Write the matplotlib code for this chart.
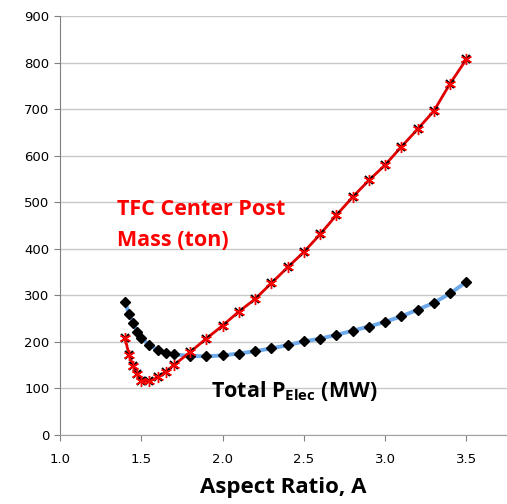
import matplotlib
matplotlib.use("Agg")
import matplotlib.pyplot as plt

plt.rcParams['mathtext.fontset'] = 'custom'
plt.rcParams['mathtext.rm'] = 'Open Sans'
plt.rcParams['mathtext.bf'] = 'Open Sans:bold'

# Total electric power (MW) vs aspect ratio
a_pelec = [1.4, 1.425, 1.45, 1.475, 1.5, 1.55, 1.6, 1.65, 1.7, 1.8, 1.9, 2.0,
           2.1, 2.2, 2.3, 2.4, 2.5, 2.6, 2.7, 2.8, 2.9, 3.0, 3.1, 3.2, 3.3, 3.4, 3.5]
pelec = [286, 260, 240, 222, 208, 193, 183, 177, 173, 170, 169, 171,
         175, 180, 186, 193, 201, 207, 215, 224, 233, 243, 255, 269, 284, 304, 329]

# TFC center post mass (ton) vs aspect ratio
a_mass = a_pelec
mass = [208, 172, 148, 130, 116, 115, 124, 136, 150, 178, 207, 235,
        265, 292, 326, 360, 393, 431, 472, 511, 547, 580, 619, 657, 696, 755, 807]

fig = plt.figure(figsize=(5.07, 5.04), dpi=100)
ax = fig.add_axes([0.1183, 0.1369, 0.8817, 0.8313])

ax.plot(a_pelec, pelec, color='#6eaaea', lw=2.8, zorder=2)
ax.plot(a_pelec, pelec, ls='none', marker='D', ms=5, color='black', zorder=3)

ax.plot(a_mass, mass, color='#e00000', lw=2, zorder=4)
ax.plot(a_mass, mass, ls='none', marker='x', ms=6, mew=1.5, color='black', zorder=5)
ax.plot(a_mass, mass, ls='none', marker=(6, 2, 0), ms=8, mew=1, color='#ff0000', zorder=6)

ax.set_xlim(1.0, 3.75)
ax.set_ylim(0, 900)
ax.set_xticks([1.0, 1.5, 2.0, 2.5, 3.0, 3.5])
ax.set_xticklabels(['1.0', '1.5', '2.0', '2.5', '3.0', '3.5'])
ax.set_yticks(range(0, 1000, 100))

ax.grid(axis='y', color='#c8c8c8', lw=1)
ax.set_axisbelow(True)
for s in ['top', 'right']:
    ax.spines[s].set_visible(False)
ax.spines['left'].set_color('#808080')
ax.spines['bottom'].set_color('#a0a0a0')
ax.tick_params(axis='both', colors='#808080', labelcolor='black', labelsize=9.5, length=4)
ax.tick_params(axis='x', pad=9)

ax.set_xlabel('Aspect Ratio, A', fontsize=16, fontweight='bold', family='Open Sans', labelpad=8)

ax.text(1.35, 451, 'TFC Center Post\nMass (ton)', color='#ff0000', fontsize=15.5,
        fontweight='bold', family='Open Sans', va='center', linespacing=1.68)
ax.text(1.93, 95, r'Total P$_\mathbf{Elec}$ (MW)', color='black', fontsize=15.5,
        fontweight='bold', family='Open Sans', va='center')

fig.savefig('out.png', dpi=100)
